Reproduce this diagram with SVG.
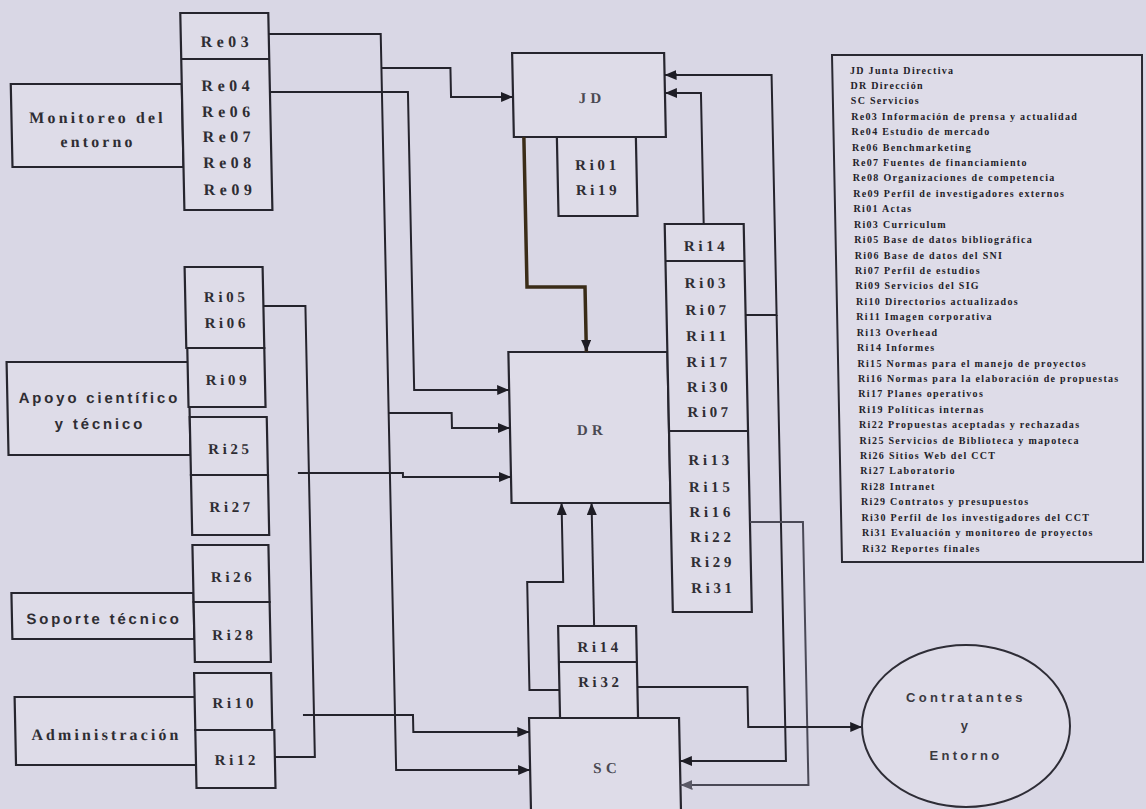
<svg xmlns="http://www.w3.org/2000/svg" width="1146" height="809" viewBox="0 0 1146 809">
<style>
.bx{fill:#dedce8;stroke:#26252e;stroke-width:2.2}
.sep{stroke:#26252e;stroke-width:2.2}
.ln{fill:none;stroke:#24232c;stroke-width:2}
.thick{fill:none;stroke:#3a2c18;stroke-width:3.5}
.faint{fill:none;stroke:#4a4956;stroke-width:2}
.ri{font-family:"Liberation Serif",serif;font-size:15px;font-weight:bold;letter-spacing:3.6px;fill:#2e2d33;text-anchor:middle}
.re{font-family:"Liberation Serif",serif;font-size:16px;font-weight:bold;letter-spacing:4.5px;fill:#2e2d33;text-anchor:middle}
.lbl{font-family:"Liberation Serif",serif;font-size:16px;font-weight:bold;letter-spacing:3.1px;fill:#2e2d33;text-anchor:middle}
.lbs{font-family:"Liberation Sans",sans-serif;font-size:15px;font-weight:bold;letter-spacing:2.8px;fill:#2e2d33;text-anchor:middle}
.big{font-family:"Liberation Serif",serif;font-size:15px;font-weight:bold;letter-spacing:4.3px;fill:#4a4951;text-anchor:middle}
.ell{font-family:"Liberation Sans",sans-serif;font-size:13px;font-weight:bold;letter-spacing:3.3px;fill:#3a3940;text-anchor:middle}
.lg{font-family:"Liberation Serif",serif;font-size:10px;font-weight:bold;letter-spacing:1.3px;fill:#232229}
</style>
<defs>
<marker id="ah" viewBox="0 0 12 10" refX="12" refY="5" markerWidth="12" markerHeight="10" markerUnits="userSpaceOnUse" orient="auto">
<path d="M0,0 L12,5 L0,10 Z" fill="#1e1d25"/>
</marker>
<marker id="ahf" viewBox="0 0 12 10" refX="12" refY="5" markerWidth="12" markerHeight="10" markerUnits="userSpaceOnUse" orient="auto">
<path d="M0,0 L12,5 L0,10 Z" fill="#5a5966"/>
</marker>
</defs>
<rect width="1146" height="809" fill="#d9d7e5"/>

<g transform="skewX(1.2)">
<g id="monitoreo">
<rect class="bx" x="9" y="84" width="171" height="83"/>
<text class="lbl" x="95" y="123">Monitoreo del</text>
<text class="lbl" x="95" y="147">entorno</text>
</g>
<g id="re-box">
<rect class="bx" x="180" y="13" width="88" height="197"/>
<line class="sep" x1="180" y1="59" x2="268" y2="59"/>
<text class="re" x="226" y="47">Re03</text>
<text class="re" x="226" y="91">Re04</text>
<text class="re" x="226" y="117">Re06</text>
<text class="re" x="226" y="142">Re07</text>
<text class="re" x="226" y="168">Re08</text>
<text class="re" x="226" y="195">Re09</text>
</g>
<g id="apoyo">
<rect class="bx" x="-1" y="362" width="182" height="93"/>
<text class="lbs" x="91" y="403">Apoyo científico</text>
<text class="lbs" x="91" y="429">y técnico</text>
</g>
<g id="ri05-06">
<rect class="bx" x="179" y="267" width="78" height="81"/>
<text class="ri" x="220" y="302">Ri05</text>
<text class="ri" x="220" y="328">Ri06</text>
</g>
<g id="ri09">
<rect class="bx" x="180" y="348" width="77" height="59"/>
<text class="ri" x="220" y="385">Ri09</text>
</g>
<g id="ri25">
<rect class="bx" x="181" y="417" width="77" height="58"/>
<text class="ri" x="221" y="454">Ri25</text>
</g>
<g id="ri27">
<rect class="bx" x="181" y="475" width="77" height="60"/>
<text class="ri" x="221" y="512">Ri27</text>
</g>
<g id="soporte">
<rect class="bx" x="-1" y="593" width="182" height="46"/>
<text class="lbs" x="91" y="624">Soporte técnico</text>
</g>
<g id="ri26">
<rect class="bx" x="181" y="545" width="76" height="57"/>
<text class="ri" x="221" y="582">Ri26</text>
</g>
<g id="ri28">
<rect class="bx" x="181" y="602" width="76" height="60"/>
<text class="ri" x="221" y="640">Ri28</text>
</g>
<g id="administracion">
<rect class="bx" x="0" y="697" width="181" height="68"/>
<text class="lbl" x="91" y="740">Administración</text>
</g>
<g id="ri10">
<rect class="bx" x="180" y="673" width="77" height="57"/>
<text class="ri" x="220" y="708">Ri10</text>
</g>
<g id="ri12">
<rect class="bx" x="180" y="730" width="79" height="58"/>
<text class="ri" x="221" y="765">Ri12</text>
</g>
<g id="jd">
<rect class="bx" x="511" y="53" width="152" height="84"/>
<text class="big" x="590" y="103">JD</text>
</g>
<g id="ri01-19">
<rect class="bx" x="554" y="137" width="79" height="79"/>
<text class="ri" x="594" y="170">Ri01</text>
<text class="ri" x="594" y="195">Ri19</text>
</g>
<g id="dr">
<rect class="bx" x="501" y="352" width="159" height="151"/>
<text class="big" x="583" y="435">DR</text>
</g>
<g id="ri-right">
<rect class="bx" x="660" y="224" width="79" height="388"/>
<line class="sep" x1="660" y1="261" x2="739" y2="261"/>
<line class="sep" x1="660" y1="431" x2="739" y2="431"/>
<text class="ri" x="701" y="251">Ri14</text>
<text class="ri" x="701" y="288">Ri03</text>
<text class="ri" x="701" y="315">Ri07</text>
<text class="ri" x="701" y="341">Ri11</text>
<text class="ri" x="701" y="367">Ri17</text>
<text class="ri" x="701" y="392">Ri30</text>
<text class="ri" x="701" y="417">Ri07</text>
<text class="ri" x="701" y="465">Ri13</text>
<text class="ri" x="701" y="492">Ri15</text>
<text class="ri" x="701" y="517">Ri16</text>
<text class="ri" x="701" y="542">Ri22</text>
<text class="ri" x="701" y="567">Ri29</text>
<text class="ri" x="701" y="593">Ri31</text>
</g>
<g id="ri14-32">
<rect class="bx" x="545" y="626" width="78" height="92"/>
<line class="sep" x1="545" y1="662" x2="623" y2="662"/>
<text class="ri" x="586" y="652">Ri14</text>
<text class="ri" x="586" y="687">Ri32</text>
</g>
<g id="sc">
<rect class="bx" x="514" y="718" width="150" height="110"/>
<text class="big" x="591" y="773">SC</text>
</g>

<g id="connectors">
<path class="ln" d="M268,34 H380 V770 H514" marker-end="url(#ah)"/>
<path class="ln" d="M380,68 H449 V97 H511" marker-end="url(#ah)"/>
<path class="ln" d="M268,92 H406 V390 H501" marker-end="url(#ah)"/>
<path class="ln" d="M380,413 H443 V428 H501" marker-end="url(#ah)"/>
<path class="ln" d="M288,473 H393 V477 H501" marker-end="url(#ah)"/>
<path class="ln" d="M257,306 H299 V757 H259"/>
<path class="ln" d="M288,715 H398 V732 H514" marker-end="url(#ah)"/>
<path class="thick" d="M521,137 V287 H579 V352" marker-end="url(#ah)"/>
<path class="ln" d="M739,315 H770 V75 H663" marker-end="url(#ah)"/>
<path class="ln" d="M770,315 V761 H664" marker-end="url(#ah)"/>
<path class="ln" d="M699,224 V93 H663" marker-end="url(#ah)"/>
<path class="faint" d="M739,522 H792 V785 H664" marker-end="url(#ahf)"/>
<path class="ln" d="M545,690 H515 V582 H551 V503" marker-end="url(#ah)"/>
<path class="ln" d="M581,626 V503" marker-end="url(#ah)"/>
<path class="ln" d="M623,687 H733 V727 H847" marker-end="url(#ah)"/>
</g>
</g>

<g id="contratantes">
<ellipse cx="966" cy="726" rx="104" ry="81" fill="#dedce8" stroke="#2e2d36" stroke-width="2"/>
<text class="ell" x="966" y="702">Contratantes</text>
<text class="ell" x="966" y="730">y</text>
<text class="ell" x="966" y="760">Entorno</text>
</g>

<g id="legend">
<path d="M832,55 H1142 L1143,562 H842 Z" fill="#dedce8" stroke="#2a2932" stroke-width="2"/>
<text class="lg" x="850" y="73.5">JD Junta Directiva</text>
<text class="lg" x="850.4" y="88.9">DR Dirección</text>
<text class="lg" x="850.8" y="104.3">SC Servicios</text>
<text class="lg" x="851.2" y="119.8">Re03 Información de prensa y actualidad</text>
<text class="lg" x="851.6" y="135.2">Re04 Estudio de mercado</text>
<text class="lg" x="852" y="150.6">Re06 Benchmarketing</text>
<text class="lg" x="852.4" y="166">Re07 Fuentes de financiamiento</text>
<text class="lg" x="852.8" y="181.4">Re08 Organizaciones de competencia</text>
<text class="lg" x="853.2" y="196.9">Re09 Perfil de investigadores externos</text>
<text class="lg" x="853.6" y="212.3">Ri01 Actas</text>
<text class="lg" x="853.9" y="227.7">Ri03 Curriculum</text>
<text class="lg" x="854.3" y="243.1">Ri05 Base de datos bibliográfica</text>
<text class="lg" x="854.7" y="258.5">Ri06 Base de datos del SNI</text>
<text class="lg" x="855.1" y="274">Ri07 Perfil de estudios</text>
<text class="lg" x="855.5" y="289.4">Ri09 Servicios del SIG</text>
<text class="lg" x="855.9" y="304.8">Ri10 Directorios actualizados</text>
<text class="lg" x="856.3" y="320.2">Ri11 Imagen corporativa</text>
<text class="lg" x="856.7" y="335.6">Ri13 Overhead</text>
<text class="lg" x="857.1" y="351.1">Ri14 Informes</text>
<text class="lg" x="857.5" y="366.5">Ri15 Normas para el manejo de proyectos</text>
<text class="lg" x="857.9" y="381.9">Ri16 Normas para la elaboración de propuestas</text>
<text class="lg" x="858.3" y="397.3">Ri17 Planes operativos</text>
<text class="lg" x="858.7" y="412.7">Ri19 Políticas internas</text>
<text class="lg" x="859.1" y="428.2">Ri22 Propuestas aceptadas y rechazadas</text>
<text class="lg" x="859.5" y="443.6">Ri25 Servicios de Biblioteca y mapoteca</text>
<text class="lg" x="859.9" y="459">Ri26 Sitios Web del CCT</text>
<text class="lg" x="860.3" y="474.4">Ri27 Laboratorio</text>
<text class="lg" x="860.7" y="489.8">Ri28 Intranet</text>
<text class="lg" x="861.1" y="505.3">Ri29 Contratos y presupuestos</text>
<text class="lg" x="861.5" y="520.7">Ri30 Perfil de los investigadores del CCT</text>
<text class="lg" x="861.9" y="536.1">Ri31 Evaluación y monitoreo de proyectos</text>
<text class="lg" x="862.3" y="551.5">Ri32 Reportes finales</text>
</g>
</svg>
